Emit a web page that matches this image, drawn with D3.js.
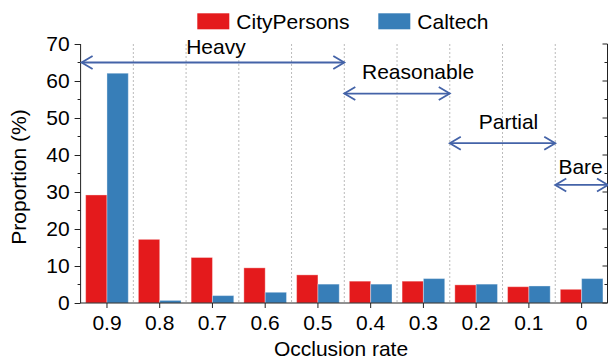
<!DOCTYPE html>
<html><head><meta charset="utf-8">
<script src="https://cdn.jsdelivr.net/npm/d3@7"></script>
<style>body{margin:0;background:#fff}svg{display:block}text{font-family:"Liberation Sans",Arial,sans-serif}</style>
</head><body><svg id="c" width="608" height="361"></svg>
<script>
const categories = ["0.9","0.8","0.7","0.6","0.5","0.4","0.3","0.2","0.1","0"];
const seriesNames = ["CityPersons","Caltech"];
const cityPersons = [29.2,17.2,12.3,9.5,7.6,5.9,5.9,4.9,4.4,3.7];
const caltech = [62.1,0.7,2.0,2.9,5.1,5.1,6.6,5.1,4.6,6.6];
const yTicks = [0,10,20,30,40,50,60,70];
const regionLabels = ["Heavy","Reasonable","Partial","Bare"];
const regionStart = [0,5,7,9];
const regionEnd = [5,7,9,10];
const regionLevel = [65,56.6,43.2,31.9];
const regionLabelLevel = [67.3,60.6,47,35];

const colors = ["#e41a1c","#377eb8"];
const arrowColor = "#4463a8";
const svg = d3.select("#c");
const L = 80.6, R = 608, T = 44, B = 303;
const x = d3.scaleBand().domain(categories).range([L,R]).padding(0);
const xs = d3.scaleBand().domain(seriesNames).range([0,x.bandwidth()]).paddingInner(0).paddingOuter(0.237);
const y = d3.scaleLinear().domain([0,70]).range([B,T]);
const fs = 21;
const txt = "#000";

// grid lines at band boundaries
const bounds = categories.slice(1).map(c => x(c));
svg.append("g").selectAll("line").data(bounds).join("line")
  .attr("x1",d=>d).attr("x2",d=>d).attr("y1",y(70)).attr("y2",y(0))
  .attr("stroke","#bbb").attr("stroke-width",1).attr("stroke-dasharray","2,2");

// bars
const series = [cityPersons, caltech];
series.forEach((vals,si)=>{
  svg.append("g").selectAll("rect").data(vals).join("rect")
    .attr("x",(d,i)=>x(categories[i])+xs(seriesNames[si]))
    .attr("width",xs.bandwidth())
    .attr("y",d=>y(d)).attr("height",d=>y(0)-y(d))
    .attr("fill",colors[si])
    .attr("stroke","#fff").attr("stroke-opacity",0.35).attr("stroke-width",1);
});

// left axis
const yAxis = d3.axisLeft(y).tickValues(yTicks).tickSize(6).tickPadding(5);
const gy = svg.append("g").attr("transform",`translate(${L},0)`).call(yAxis);
gy.select(".domain").attr("d",`M0,${T}V${B}`).attr("stroke","#222");
gy.selectAll(".tick line").attr("stroke","#222");
gy.selectAll("text").attr("font-size",fs).attr("fill",txt).style("font-family","Liberation Sans, Arial, sans-serif");
// minor ticks
const minor = d3.range(5,70,10);
svg.append("g").selectAll("line").data(minor).join("line")
  .attr("x1",L-3).attr("x2",L).attr("y1",d=>y(d)).attr("y2",d=>y(d)).attr("stroke","#222");

// right axis
const rx = 607.5;
svg.append("line").attr("x1",rx).attr("x2",rx).attr("y1",T).attr("y2",B).attr("stroke","#222");
svg.append("g").selectAll("line").data(yTicks).join("line")
  .attr("x1",rx-5).attr("x2",rx).attr("y1",d=>y(d)).attr("y2",d=>y(d)).attr("stroke","#222");
svg.append("g").selectAll("line").data(minor).join("line")
  .attr("x1",rx-3).attr("x2",rx).attr("y1",d=>y(d)).attr("y2",d=>y(d)).attr("stroke","#222");

// bottom axis
const xAxis = d3.axisBottom(x).tickSize(5).tickPadding(7);
const gx = svg.append("g").attr("transform",`translate(0,${B})`).call(xAxis);
gx.select(".domain").attr("d",`M${L},0H${rx}`).attr("stroke","#222");
gx.selectAll(".tick line").attr("stroke","#222");
gx.selectAll("text").attr("font-size",fs).attr("fill",txt).style("font-family","Liberation Sans, Arial, sans-serif");

// axis titles
svg.append("text").attr("x",341).attr("y",356).attr("text-anchor","middle").attr("font-size",fs).attr("fill",txt).text("Occlusion rate");
svg.append("text").attr("transform","translate(26,177) rotate(-90)").attr("text-anchor","middle").attr("font-size",fs).attr("fill",txt).text("Proportion (%)");

// region arrows
const ah = 11, aw = 6.5;
const labelDx = [3,21,6,-1];
regionLabels.forEach((lab,i)=>{
  const x0 = regionStart[i]===0 ? L+1 : x(categories[regionStart[i]]);
  const x1 = regionEnd[i]>=categories.length ? R : x(categories[regionEnd[i]]);
  const yy = y(regionLevel[i]);
  const g = svg.append("g").attr("stroke",arrowColor).attr("stroke-width",1.8).attr("fill","none");
  g.append("line").attr("x1",x0).attr("x2",x1).attr("y1",yy).attr("y2",yy);
  g.append("path").attr("d",`M${x0+ah},${yy-aw}L${x0},${yy}L${x0+ah},${yy+aw}`);
  g.append("path").attr("d",`M${x1-ah},${yy-aw}L${x1},${yy}L${x1-ah},${yy+aw}`);
  svg.append("text").attr("x",(x0+x1)/2+labelDx[i]).attr("y",y(regionLabelLevel[i]))
    .attr("text-anchor","middle").attr("font-size",fs).attr("fill",txt).text(lab);
});

// legend
const legX = [197.3,378.3];
seriesNames.forEach((n,i)=>{
  svg.append("rect").attr("x",legX[i]).attr("y",13.3).attr("width",32).attr("height",16).attr("fill",colors[i]);
  svg.append("text").attr("x",legX[i]+39).attr("y",28.5).attr("font-size",fs).attr("fill",txt).text(n);
});
</script></body></html>
